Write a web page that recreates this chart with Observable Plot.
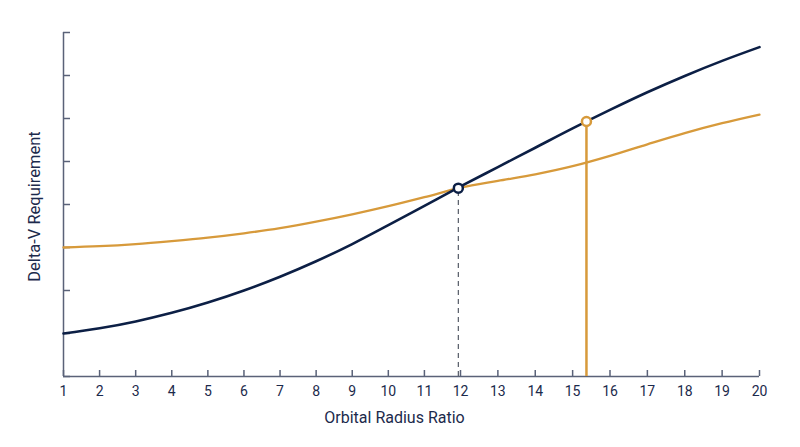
<!DOCTYPE html>
<html>
<head>
<meta charset="utf-8">
<script src="https://cdn.jsdelivr.net/npm/d3@7"></script>
<script src="https://cdn.jsdelivr.net/npm/@observablehq/plot@0.6"></script>
<style>
  body { margin: 0; background: #ffffff; }
  #chart svg { display: block; }
</style>
</head>
<body>
<div id="chart"></div>
<script>
// ---- data ----
const ratios = [1, 2, 3, 4, 5, 6, 7, 8, 9, 10, 11, 12, 13, 14, 15, 16, 17, 18, 19, 20];
const hohmannValues = [1.00, 1.12, 1.28, 1.48, 1.72, 2.00, 2.32, 2.68, 3.08, 3.52, 3.97, 4.42, 4.87, 5.32, 5.77, 6.20, 6.61, 6.99, 7.34, 7.66];
const biEllipticValues = [3.00, 3.03, 3.08, 3.15, 3.23, 3.33, 3.45, 3.60, 3.77, 3.96, 4.17, 4.39, 4.55, 4.70, 4.89, 5.13, 5.40, 5.66, 5.89, 6.09];
const crossing = [{ratio: 11.94, value: 4.38}];
const peak = [{ratio: 15.37, value: 5.93}];
const xTicks = d3.range(1, 21);
const yTicks = d3.range(0, 9);

const navy = "#0c1f45";
const gold = "#d79a3b";
const axisColor = "#5a6278";
const textColor = "#1c2a4c";

const hohmann = ratios.map((r, i) => ({ratio: r, value: hohmannValues[i]}));
const biElliptic = ratios.map((r, i) => ({ratio: r, value: biEllipticValues[i]}));

const chart = Plot.plot({
  width: 800,
  height: 447,
  marginTop: 32,
  marginBottom: 71,
  marginLeft: 63,
  marginRight: 75,
  style: {fontFamily: "Roboto, sans-serif", fontSize: "14px", color: textColor, background: "#ffffff"},
  x: {type: "linear", domain: [1, 12, 20], range: [63, 460, 759]},
  y: {type: "linear", domain: [0, 8], range: [376, 32]},
  marks: [
    Plot.ruleY([0], {x1: 1, x2: 20, stroke: axisColor, strokeWidth: 1.5}),
    Plot.ruleX([1], {y1: 0, y2: 8, stroke: axisColor, strokeWidth: 1.5}),
    Plot.axisX({ticks: xTicks, tickSize: -6, tickFormat: () => "", stroke: axisColor, strokeWidth: 1.5, label: null}),
    Plot.text(xTicks, {x: d => d, frameAnchor: "bottom", lineAnchor: "middle", dy: 15, fontSize: 14, fill: textColor, text: d => String(d)}),
    Plot.axisY({ticks: yTicks, tickSize: -7, tickFormat: () => "", stroke: axisColor, strokeWidth: 1.5, label: null}),
    Plot.text(["Orbital Radius Ratio"], {frameAnchor: "bottom", textAnchor: "middle", lineAnchor: "middle", dy: 41, fontSize: 16, fill: textColor}),
    Plot.text(["Delta-V Requirement"], {frameAnchor: "left", textAnchor: "middle", lineAnchor: "middle", dx: -28.5, dy: 2, rotate: -90, fontSize: 16.5, fill: textColor}),
    Plot.ruleX(crossing, {x: "ratio", y1: 0, y2: "value", stroke: "#555a66", strokeWidth: 1.2, strokeDasharray: "5,4"}),
    Plot.ruleX(peak, {x: "ratio", y1: 0, y2: "value", stroke: gold, strokeWidth: 2.5}),
    Plot.line(biElliptic, {x: "ratio", y: "value", stroke: gold, strokeWidth: 2.3, curve: "monotone-x"}),
    Plot.line(hohmann, {x: "ratio", y: "value", stroke: navy, strokeWidth: 2.6, curve: "monotone-x"}),
    Plot.dot(crossing, {x: "ratio", y: "value", r: 4.5, fill: "white", stroke: navy, strokeWidth: 2.5}),
    Plot.dot(peak, {x: "ratio", y: "value", r: 4.5, fill: "white", stroke: gold, strokeWidth: 2.5})
  ]
});
document.getElementById("chart").appendChild(chart);
</script>
</body>
</html>
